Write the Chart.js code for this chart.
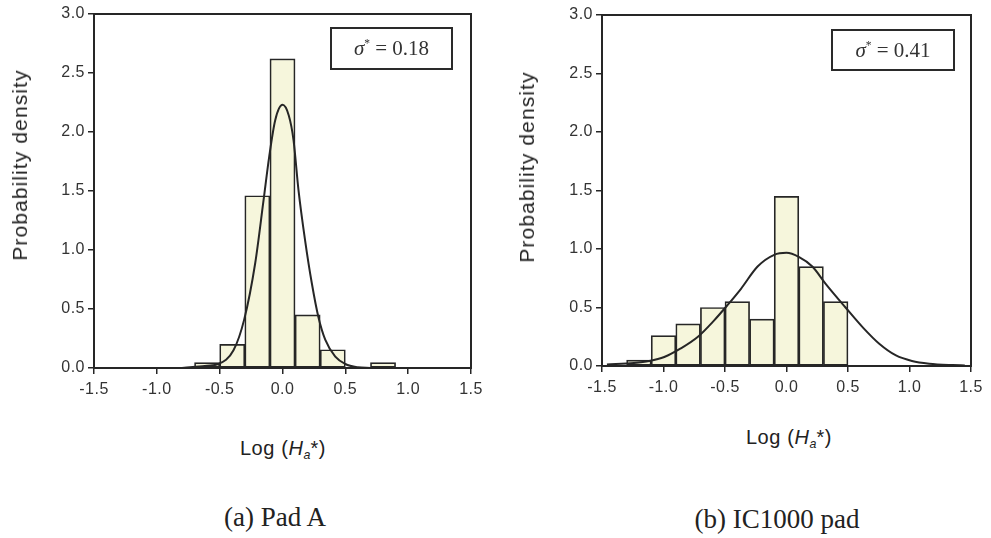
<!DOCTYPE html>
<html>
<head>
<meta charset="utf-8">
<script src="https://cdn.jsdelivr.net/npm/chart.js@4"></script>
<style>
  html, body { margin: 0; padding: 0; background: #fff; }
  body { width: 991px; height: 538px; position: relative; overflow: hidden; }
  canvas { position: absolute; top: 0; }
  .ytitle, .xtitle, .cap, .legend { position: absolute; white-space: nowrap; color: #222; }
  .ytitle { font-family: "Liberation Sans", Arial, sans-serif; font-size: 21px; letter-spacing: 1.1px;
            transform: translate(-50%, -50%) rotate(-90deg); }
  .xtitle { font-family: "Liberation Sans", Arial, sans-serif; font-size: 20px; letter-spacing: 0.6px;
            transform: translate(-50%, -50%); }
  .xtitle sub { font-size: 0.62em; vertical-align: -0.35em; line-height: 0; letter-spacing: 0; }
  .cap { font-family: "Liberation Serif", "Times New Roman", serif; font-size: 27px; transform: translate(-50%, -50%); }
  .legend { box-sizing: border-box; border: 2px solid #2a2a2a; font-family: "Liberation Serif", "Times New Roman", serif;
            font-size: 21px; color: #333; display: flex; align-items: center; justify-content: center; }
  .legend sup { font-size: 0.55em; vertical-align: 0.7em; line-height: 0; }
</style>
</head>
<body>
<canvas id="cA" width="495" height="420" style="left:0px"></canvas>
<canvas id="cB" width="495" height="420" style="left:496px"></canvas>

<div class="ytitle" style="left:20px; top:165px;">Probability density</div>
<div class="ytitle" style="left:527px; top:167px;">Probability density</div>

<div class="xtitle" style="left:283px; top:448px;">Log (<i>H</i><sub><i>a</i></sub>*)</div>
<div class="xtitle" style="left:789px; top:437px;">Log (<i>H</i><sub><i>a</i></sub>*)</div>

<div class="cap" style="left:275px; top:517px;">(a) Pad A</div>
<div class="cap" style="left:777px; top:519px;">(b) IC1000 pad</div>

<div class="legend" style="left:330px; top:27px; width:123px; height:43px;"><span><i>σ</i><sup>*</sup> = 0.18</span></div>
<div class="legend" style="left:831px; top:29px; width:124px; height:42px;"><span><i>σ</i><sup>*</sup> = 0.41</span></div>

<script>
// ---- data ----
const xTickLabels = ['-1.5', '-1.0', '-0.5', '0.0', '0.5', '1.0', '1.5'];
const yTickLabels = ['0.0', '0.5', '1.0', '1.5', '2.0', '2.5', '3.0'];

// (a) Pad A
const padABinCenters = [-0.6, -0.4, -0.2, 0.0, 0.2, 0.4, 0.8];
const padADensity    = [0.045, 0.20, 1.46, 2.62, 0.45, 0.155, 0.045];
const padACurveX = [-0.8, -0.69, -0.6, -0.51, -0.39, -0.305, -0.217, -0.151, -0.106, -0.058, 0.0,
                    0.05, 0.088, 0.127, 0.18, 0.233, 0.286, 0.34, 0.42, 0.5, 0.6, 0.7];
const padACurveY = [0.0, 0.01, 0.02, 0.034, 0.15, 0.41, 0.89, 1.42, 1.79, 2.10, 2.23,
                    2.14, 1.93, 1.51, 1.08, 0.72, 0.43, 0.24, 0.096, 0.034, 0.006, 0.0];

// (b) IC1000 pad
const ic1000BinCenters = [-1.2, -1.0, -0.8, -0.6, -0.4, -0.2, 0.0, 0.2, 0.4];
const ic1000Density    = [0.05, 0.26, 0.36, 0.50, 0.55, 0.40, 1.45, 0.85, 0.55];
const ic1000CurveX = [-1.46, -1.24, -1.116, -0.994, -0.86, -0.72, -0.588, -0.48, -0.37, -0.235, -0.1, 0.0,
                      0.103, 0.21, 0.32, 0.48, 0.62, 0.754, 0.89, 1.02, 1.16, 1.35, 1.45];
const ic1000CurveY = [0.012, 0.026, 0.043, 0.077, 0.15, 0.25, 0.39, 0.52, 0.66, 0.85, 0.95, 0.967,
                      0.93, 0.85, 0.70, 0.50, 0.33, 0.19, 0.09, 0.043, 0.02, 0.008, 0.005];

// ---- styles ----
const BAR_FILL = '#f6f6dc';
const INK = '#262626';

const boxPlugin = {
  id: 'box',
  beforeDraw(chart) { chart.ctx.letterSpacing = '0.5px'; },
  afterDraw(chart) {
    const { ctx, chartArea: a } = chart;
    ctx.save();
    ctx.letterSpacing = '0px';
    ctx.strokeStyle = INK;
    ctx.lineWidth = 2;
    ctx.strokeRect(a.left, a.top, a.right - a.left, a.bottom - a.top);
    ctx.restore();
  }
};

function makeChart(id, centers, dens, cx, cy, geom) {
  const bars = centers.map((x, i) => ({ x: x, y: dens[i] }));
  const curve = cx.map((x, i) => ({ x: x, y: cy[i] }));
  return new Chart(document.getElementById(id), {
    type: 'bar',
    data: {
      datasets: [
        {
          type: 'line', data: curve, borderColor: INK, borderWidth: 2,
          pointRadius: 0, fill: false, cubicInterpolationMode: 'monotone', order: 0
        },
        {
          type: 'bar', data: bars, backgroundColor: BAR_FILL, borderColor: INK,
          borderWidth: 1.7, borderSkipped: false, barPercentage: 1, categoryPercentage: 1, order: 1
        }
      ]
    },
    options: {
      responsive: false, animation: false, devicePixelRatio: 1,
      layout: { padding: { left: 0, top: geom.top, right: geom.right, bottom: 0 } },
      plugins: { legend: { display: false }, tooltip: { enabled: false } },
      scales: {
        x: {
          type: 'linear', min: -1.5, max: 1.5, offset: false,
          afterFit: (s) => { s.height = geom.xh; },
          ticks: {
            stepSize: 0.5, padding: 6, color: '#333', maxRotation: 0, autoSkip: false,
            font: { family: '"Liberation Sans", Arial, sans-serif', size: 16 },
            callback: (v, i) => xTickLabels[i]
          },
          grid: { offset: false, drawOnChartArea: false, tickLength: 6, color: INK, lineWidth: 1.5 },
          border: { display: false }
        },
        y: {
          min: 0, max: 3,
          afterFit: (s) => { s.width = geom.yw; },
          ticks: {
            stepSize: 0.5, padding: 3, color: '#333',
            font: { family: '"Liberation Sans", Arial, sans-serif', size: 16 },
            callback: (v, i) => yTickLabels[i]
          },
          grid: { drawOnChartArea: false, tickLength: 6, color: INK, lineWidth: 1.5 },
          border: { display: false }
        }
      }
    },
    plugins: [boxPlugin]
  });
}

makeChart('cA', padABinCenters, padADensity, padACurveX, padACurveY, { top: 14, right: 24, yw: 94, xh: 52 });
makeChart('cB', ic1000BinCenters, ic1000Density, ic1000CurveX, ic1000CurveY, { top: 15, right: 20, yw: 106, xh: 54 });
</script>
</body>
</html>
